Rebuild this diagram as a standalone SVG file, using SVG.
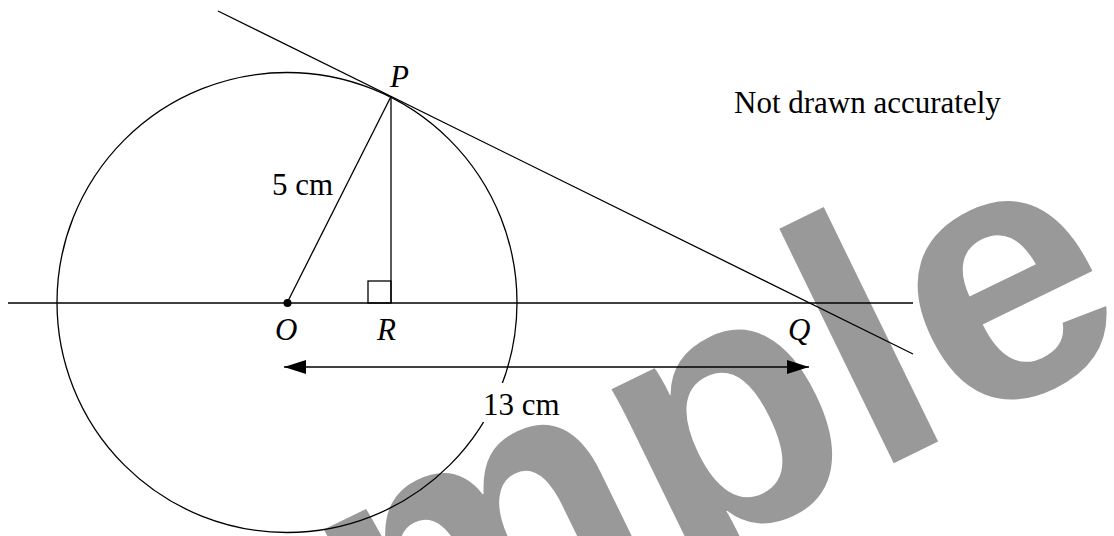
<svg xmlns="http://www.w3.org/2000/svg" width="1114" height="536" viewBox="0 0 1114 536">
  <style>
    .ln { stroke: #000; stroke-width: 1.3; fill: none; }
    .lbl { font-family: "Liberation Serif", "Times New Roman", serif; font-size: 31px; fill: #000; }
    .it { font-style: italic; }
    .wm { font-family: "Liberation Sans", Arial, sans-serif; font-weight: bold; font-size: 360px; fill: #999999; }
  </style>
  <defs>
    <marker id="ah" markerUnits="userSpaceOnUse" markerWidth="22" markerHeight="14" refX="22" refY="7" orient="auto-start-reverse">
      <path d="M0,0 L22,7 L0,14 Z" fill="#000"/>
    </marker>
  </defs>
  <rect width="1114" height="536" fill="#fff"/>
  <g id="watermark">
    <text class="wm" transform="translate(-10,904) rotate(-26)">Sample</text>
  </g>
  <g id="circle-node">
    <circle class="ln" cx="287" cy="302.5" r="230"/>
  </g>
  <g id="connectors">
    <line id="axis" class="ln" x1="8" y1="303" x2="913" y2="303"/>
    <line id="tangent" class="ln" x1="218" y1="11" x2="913" y2="354"/>
    <line id="OP" class="ln" x1="287" y1="303" x2="391" y2="96.5"/>
    <line id="PR" class="ln" x1="391" y1="96.5" x2="391" y2="303"/>
    <line id="dim" class="ln" x1="284" y1="367" x2="809" y2="367" marker-start="url(#ah)" marker-end="url(#ah)"/>
  </g>
  <g id="right-angle">
    <rect class="ln" x="368" y="281" width="23" height="22"/>
  </g>
  <g id="O">
    <circle cx="287.5" cy="303" r="4" fill="#000"/>
    <text class="lbl it" x="275" y="340">O</text>
  </g>
  <g id="P">
    <text class="lbl it" x="390" y="87">P</text>
  </g>
  <g id="R">
    <text class="lbl it" x="377" y="340">R</text>
  </g>
  <g id="Q">
    <text class="lbl it" x="788" y="340">Q</text>
  </g>
  <g id="label-5cm">
    <text class="lbl" x="272" y="195">5 cm</text>
  </g>
  <g id="label-13cm">
    <rect x="481" y="383" width="82" height="39" fill="#fff"/>
    <text class="lbl" x="483" y="415">13 cm</text>
  </g>
  <g id="note">
    <text class="lbl" x="734" y="113">Not drawn accurately</text>
  </g>
</svg>
